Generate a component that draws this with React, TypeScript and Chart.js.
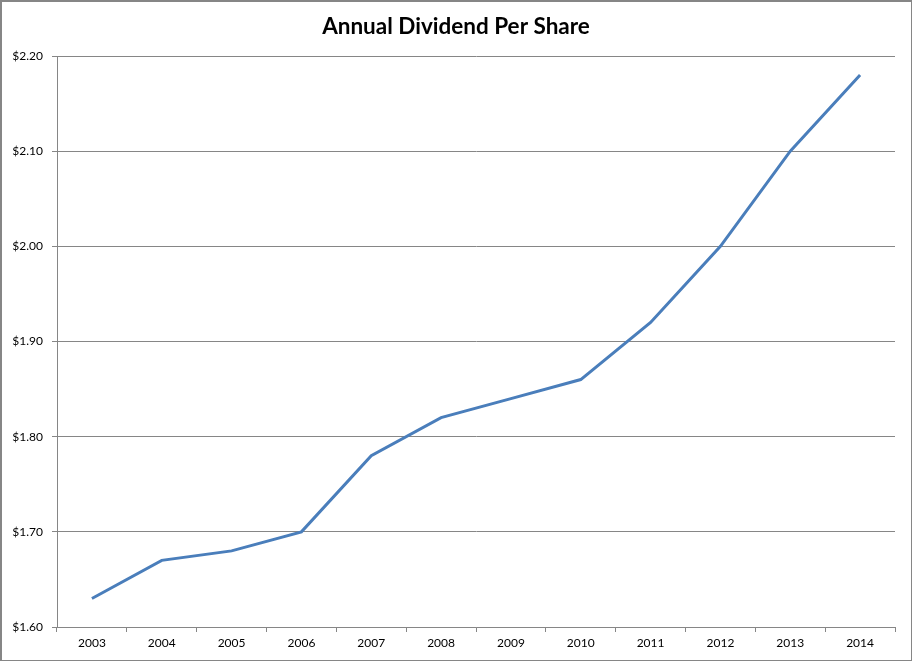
import { useEffect, useRef } from 'react';
import { Chart, registerables } from 'chart.js';

Chart.register(...registerables);

const years = ['2003', '2004', '2005', '2006', '2007', '2008', '2009', '2010', '2011', '2012', '2013', '2014'];
const dividends = [1.63, 1.67, 1.68, 1.70, 1.78, 1.82, 1.84, 1.86, 1.92, 2.00, 2.10, 2.18];

const axisGray = '#868686';

export default function App() {
  const canvasRef = useRef<HTMLCanvasElement>(null);

  useEffect(() => {
    document.body.style.margin = '0';
    if (!canvasRef.current) return;
    const ctx = canvasRef.current.getContext('2d');
    if (!ctx) return;

    const chart = new Chart(ctx, {
      type: 'line',
      data: {
        labels: years,
        datasets: [{
          label: 'Dividend',
          data: dividends,
          borderColor: '#4a7ebb',
          borderWidth: 3,
          pointRadius: 0,
          tension: 0,
          fill: false,
        }],
      },
      options: {
        responsive: false,
        animation: false,
        layout: { padding: 0 },
        plugins: {
          legend: { display: false },
          tooltip: { enabled: false },
          title: {
            display: true,
            text: 'Annual Dividend Per Share',
            color: '#000',
            font: { family: 'Lato', size: 22.5, weight: 'bold', lineHeight: 1.2 },
            padding: { top: 13, bottom: 16 },
          },
        },
        scales: {
          x: {
            type: 'category',
            offset: true,
            grid: {
              display: true,
              offset: true,
              drawOnChartArea: false,
              drawTicks: true,
              tickLength: 5,
              color: axisGray,
            },
            border: { display: true, color: axisGray },
            ticks: {
              color: '#000',
              padding: 4,
              maxRotation: 0,
              autoSkip: false,
              font: { family: 'Lato', size: 12 },
            },
            afterFit: (scale: any) => { scale.height = 34; },
          },
          y: {
            min: 1.6,
            max: 2.2,
            grid: {
              color: axisGray,
              drawTicks: true,
              tickLength: 5,
            },
            border: { display: true, color: axisGray },
            ticks: {
              stepSize: 0.1,
              color: '#000',
              padding: 9,
              font: { family: 'Lato', size: 12 },
              callback: (v: any) => '$' + Number(v).toFixed(2),
            },
            afterFit: (scale: any) => { scale.width = 57; },
          },
          // empty right-hand spacer so the title stays centred on the whole canvas
          spacer: {
            type: 'linear',
            position: 'right',
            display: true,
            grid: { display: false, drawTicks: false },
            border: { display: false },
            ticks: { display: false },
            afterFit: (scale: any) => { scale.width = 17; },
          },
        },
      },
    });

    return () => chart.destroy();
  }, []);

  return (
    <div style={{ position: 'relative', width: 912, height: 661 }}>
      <canvas ref={canvasRef} width="912" height="661" style={{ position: 'absolute', left: 0, top: 0 }} />
      <div
        style={{
          position: 'absolute',
          left: 0,
          top: 0,
          width: 909,
          height: 658,
          border: `2px solid ${axisGray}`,
          pointerEvents: 'none',
        }}
      />
    </div>
  );
}
